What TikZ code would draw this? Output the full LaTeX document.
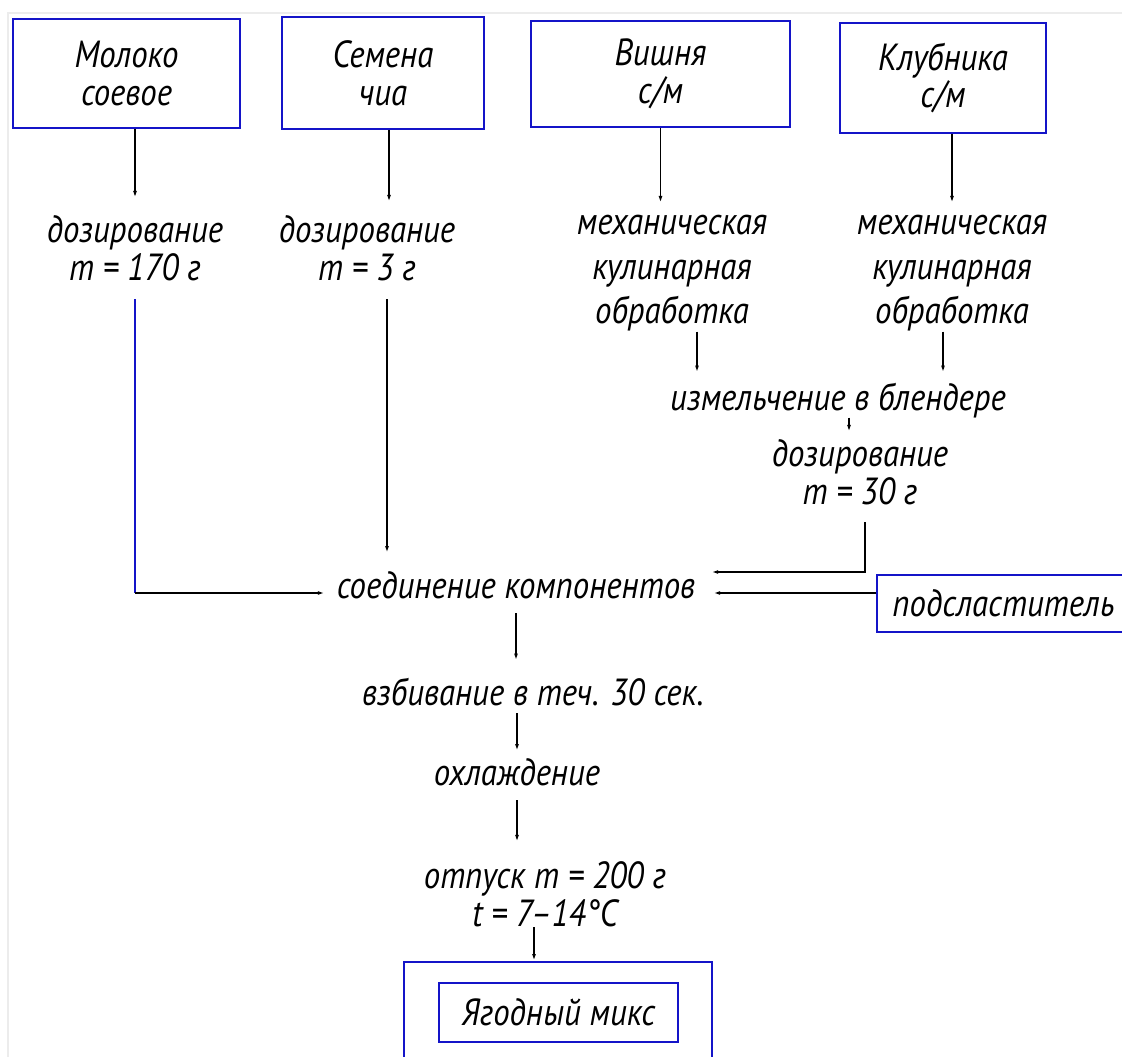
\documentclass[tikz,border=0pt]{standalone}
\usepackage{fontspec}
\setmainfont{PT Sans}[FakeStretch=0.87]
\usetikzlibrary{arrows.meta}
\definecolor{boxblue}{RGB}{20,20,200}
\tikzset{
	stepbox/.style={draw=boxblue, line width=1.1pt, inner sep=0pt, align=center, font=\fontsize{21.5}{21.5}\selectfont\itshape},
	lbl/.style={inner sep=0pt, outer sep=0pt, align=center, font=\fontsize{21.5}{21.5}\selectfont\itshape},
	lblwide/.style={lbl, font=\fontsize{21.5}{25.5}\selectfont\itshape},
	arr/.style={line width=0.8pt, -{Latex[length=4pt,width=2.2pt]}},
	bline/.style={draw=boxblue, line width=0.8pt},
}
\begin{document}
\begin{tikzpicture}[x=0.02cm, y=-0.02cm]
		\useasboundingbox (0,0) rectangle (1122,1057);
		\draw[gray!15, line width=0.6pt] (1122,13) -- (8,13) -- (8,1057);

		\node[stepbox, minimum width=4.54cm, minimum height=2.18cm] (milk) at (126.5,73.5) {Молоко\\соевое};
		\node[stepbox, minimum width=4.04cm, minimum height=2.24cm] (chia) at (383,73) {Семена\\чиа};
		\node[stepbox, minimum width=5.18cm, minimum height=2.12cm] (cherry) at (660.5,74) {Вишня\\с/м};
		\node[stepbox, minimum width=4.12cm, minimum height=2.2cm] (straw) at (943,78) {Клубника\\с/м};

		\node[lbl, anchor=north] (dose1) at (135,216) {дозирование\\m = 170 г};
		\node[lbl, anchor=north] (dose2) at (367,216) {дозирование\\m = 3 г};
		\node[lblwide, anchor=north] (mech1) at (672,215) {механическая\\кулинарная\\обработка};
		\node[lblwide, anchor=north] (mech2) at (952,215) {механическая\\кулинарная\\обработка};
		\node[lbl, anchor=base] (blend) at (838,410) {измельчение в блендере};
		\node[lbl, anchor=north] (dose3) at (860,440) {дозирование\\m = 30 г};
		\node[lbl, anchor=base] (join) at (516,598) {соединение компонентов};
		\node[stepbox, minimum width=5.06cm, minimum height=1.14cm] (sweet) at (1003.5,603.5) {подсластитель};
		\node[lbl, anchor=base] (whip) at (533,705) {взбивание в теч. 30 сек.};
		\node[lbl, anchor=base] (cool) at (517,785) {охлаждение};
		\node[lbl, anchor=north] (serve) at (545,862) {отпуск m = 200 г\\t = 7–14°C};
		\node[stepbox, minimum width=6.16cm, minimum height=2.36cm] (pack) at (558,1021) {};
		\node[stepbox, minimum width=4.78cm, minimum height=1.18cm] (mix) at (558.5,1012.5) {Ягодный микс};

		\draw[arr, shorten >=.36cm] (milk.south -| dose1.north) -- (dose1.north);
		\draw[arr, shorten >=.28cm] ([xshift=.12cm]chia.south) -- ([xshift=.12cm]chia.south |- dose2.north);
		\draw[arr, shorten >=.24cm] (cherry.south) -- (cherry.south |- mech1.north);
		\draw[arr, shorten >=.24cm] (straw.south -| mech2.north) -- (mech2.north);
		\draw[arr, shorten >=.2cm] ([xshift=.5cm]mech1.south) -- ([xshift=.5cm]mech1.south |- blend.north);
		\draw[arr, shorten >=.2cm] ([xshift=-.18cm]mech2.south) -- ([xshift=-.18cm]mech2.south |- blend.north);
		\draw[arr, shorten >=.16cm] ([xshift=.22cm]blend.south) -- ([xshift=.22cm]blend.south |- dose3.north);

		\coordinate (jr1) at ([xshift=.32cm, yshift=.52cm]join.base east);
		\coordinate (jr2) at ([xshift=.36cm, yshift=.1cm]join.base east);
		\coordinate (jl) at ([xshift=-.24cm, yshift=.1cm]join.base west);
		\coordinate (corner) at (dose1.south |- jl);
		\draw[arr, shorten <=.34cm] ([xshift=.1cm]dose3.south) |- (jr1);
		\draw[arr] (sweet.west |- jr2) -- (jr2);
		\draw[bline, shorten <=.36cm] (dose1.south) -- (corner);
		\draw[arr] (corner) -- (jl);
		\draw[arr, shorten <=.36cm, shorten >=.36cm] ([xshift=.4cm]dose2.south) -- ([xshift=.4cm]dose2.south |- join.north);

		\draw[arr, shorten <=.3cm, shorten >=.34cm] (join.south) -- (join.south |- whip.north);
		\draw[arr, shorten <=.16cm, shorten >=.14cm] (cool.north |- whip.south) -- (cool.north);
		\draw[arr, shorten <=.3cm, shorten >=.4cm] (cool.south) -- (cool.south |- serve.north);
		\draw[arr] ([xshift=-.22cm]serve.south) -- ([xshift=-.22cm]serve.south |- pack.north);
\end{tikzpicture}
\end{document}
